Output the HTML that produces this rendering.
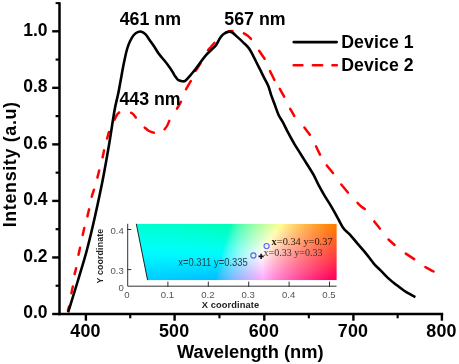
<!DOCTYPE html><html><head><meta charset="utf-8"><title>EL spectra</title>
<style>html,body{margin:0;padding:0;background:#fff;overflow:hidden}svg{display:block;will-change:transform}text{font-family:"Liberation Sans", sans-serif}.tk text{font-family:"Liberation Sans", sans-serif}text.sf{font-family:"Liberation Serif", serif}</style></head><body>
<svg width="459" height="364" viewBox="0 0 459 364">
<rect width="459" height="364" fill="#fff"/>
<defs>
<linearGradient id="g0" x1="0" y1="0" x2="0" y2="1"><stop offset="0.000" stop-color="#00ffd2"/><stop offset="0.143" stop-color="#00ffdf"/><stop offset="0.286" stop-color="#00ffec"/><stop offset="0.429" stop-color="#00fff9"/><stop offset="0.571" stop-color="#00f7ff"/><stop offset="0.714" stop-color="#00e9ff"/><stop offset="0.857" stop-color="#00dbff"/><stop offset="1.000" stop-color="#00ceff"/></linearGradient>
<linearGradient id="g1" x1="0" y1="0" x2="0" y2="1"><stop offset="0.000" stop-color="#00ffd2"/><stop offset="0.143" stop-color="#00ffde"/><stop offset="0.286" stop-color="#00ffeb"/><stop offset="0.429" stop-color="#00fff9"/><stop offset="0.571" stop-color="#00f7ff"/><stop offset="0.714" stop-color="#00e9ff"/><stop offset="0.857" stop-color="#00dbff"/><stop offset="1.000" stop-color="#00cdff"/></linearGradient>
<linearGradient id="g2" x1="0" y1="0" x2="0" y2="1"><stop offset="0.000" stop-color="#00ffd1"/><stop offset="0.143" stop-color="#00ffde"/><stop offset="0.286" stop-color="#00ffeb"/><stop offset="0.429" stop-color="#00fff9"/><stop offset="0.571" stop-color="#00f7ff"/><stop offset="0.714" stop-color="#00e9ff"/><stop offset="0.857" stop-color="#00dbff"/><stop offset="1.000" stop-color="#00cdff"/></linearGradient>
<linearGradient id="g3" x1="0" y1="0" x2="0" y2="1"><stop offset="0.000" stop-color="#00ffd1"/><stop offset="0.143" stop-color="#00ffde"/><stop offset="0.286" stop-color="#00ffeb"/><stop offset="0.429" stop-color="#00fff9"/><stop offset="0.571" stop-color="#00f7ff"/><stop offset="0.714" stop-color="#00e8ff"/><stop offset="0.857" stop-color="#00daff"/><stop offset="1.000" stop-color="#00cdff"/></linearGradient>
<linearGradient id="g4" x1="0" y1="0" x2="0" y2="1"><stop offset="0.000" stop-color="#00ffd0"/><stop offset="0.143" stop-color="#00ffdd"/><stop offset="0.286" stop-color="#00ffeb"/><stop offset="0.429" stop-color="#00fff9"/><stop offset="0.571" stop-color="#00f7ff"/><stop offset="0.714" stop-color="#00e8ff"/><stop offset="0.857" stop-color="#00daff"/><stop offset="1.000" stop-color="#00ccff"/></linearGradient>
<linearGradient id="g5" x1="0" y1="0" x2="0" y2="1"><stop offset="0.000" stop-color="#00ffd0"/><stop offset="0.143" stop-color="#00ffdd"/><stop offset="0.286" stop-color="#00ffea"/><stop offset="0.429" stop-color="#00fff8"/><stop offset="0.571" stop-color="#00f7ff"/><stop offset="0.714" stop-color="#00e8ff"/><stop offset="0.857" stop-color="#00daff"/><stop offset="1.000" stop-color="#00ccff"/></linearGradient>
<linearGradient id="g6" x1="0" y1="0" x2="0" y2="1"><stop offset="0.000" stop-color="#00ffd0"/><stop offset="0.143" stop-color="#00ffdd"/><stop offset="0.286" stop-color="#00ffea"/><stop offset="0.429" stop-color="#00fff8"/><stop offset="0.571" stop-color="#00f7ff"/><stop offset="0.714" stop-color="#00e8ff"/><stop offset="0.857" stop-color="#00daff"/><stop offset="1.000" stop-color="#00ccff"/></linearGradient>
<linearGradient id="g7" x1="0" y1="0" x2="0" y2="1"><stop offset="0.000" stop-color="#00ffcf"/><stop offset="0.143" stop-color="#00ffdc"/><stop offset="0.286" stop-color="#00ffea"/><stop offset="0.429" stop-color="#00fff8"/><stop offset="0.571" stop-color="#00f7ff"/><stop offset="0.714" stop-color="#00e8ff"/><stop offset="0.857" stop-color="#00daff"/><stop offset="1.000" stop-color="#00cbff"/></linearGradient>
<linearGradient id="g8" x1="0" y1="0" x2="0" y2="1"><stop offset="0.000" stop-color="#00ffcf"/><stop offset="0.143" stop-color="#00ffdc"/><stop offset="0.286" stop-color="#00ffea"/><stop offset="0.429" stop-color="#00fff8"/><stop offset="0.571" stop-color="#00f7ff"/><stop offset="0.714" stop-color="#00e8ff"/><stop offset="0.857" stop-color="#00d9ff"/><stop offset="1.000" stop-color="#00cbff"/></linearGradient>
<linearGradient id="g9" x1="0" y1="0" x2="0" y2="1"><stop offset="0.000" stop-color="#00ffce"/><stop offset="0.143" stop-color="#00ffdb"/><stop offset="0.286" stop-color="#00ffe9"/><stop offset="0.429" stop-color="#00fff8"/><stop offset="0.571" stop-color="#00f7ff"/><stop offset="0.714" stop-color="#00e8ff"/><stop offset="0.857" stop-color="#00d9ff"/><stop offset="1.000" stop-color="#00cbff"/></linearGradient>
<linearGradient id="g10" x1="0" y1="0" x2="0" y2="1"><stop offset="0.000" stop-color="#00ffce"/><stop offset="0.143" stop-color="#00ffdb"/><stop offset="0.286" stop-color="#00ffe9"/><stop offset="0.429" stop-color="#00fff8"/><stop offset="0.571" stop-color="#00f7ff"/><stop offset="0.714" stop-color="#00e8ff"/><stop offset="0.857" stop-color="#00d9ff"/><stop offset="1.000" stop-color="#00caff"/></linearGradient>
<linearGradient id="g11" x1="0" y1="0" x2="0" y2="1"><stop offset="0.000" stop-color="#00ffcd"/><stop offset="0.143" stop-color="#00ffdb"/><stop offset="0.286" stop-color="#00ffe9"/><stop offset="0.429" stop-color="#00fff8"/><stop offset="0.571" stop-color="#00f7ff"/><stop offset="0.714" stop-color="#00e8ff"/><stop offset="0.857" stop-color="#00d9ff"/><stop offset="1.000" stop-color="#00caff"/></linearGradient>
<linearGradient id="g12" x1="0" y1="0" x2="0" y2="1"><stop offset="0.000" stop-color="#00ffcd"/><stop offset="0.143" stop-color="#00ffda"/><stop offset="0.286" stop-color="#00ffe8"/><stop offset="0.429" stop-color="#00fff7"/><stop offset="0.571" stop-color="#00f7ff"/><stop offset="0.714" stop-color="#00e8ff"/><stop offset="0.857" stop-color="#00d8ff"/><stop offset="1.000" stop-color="#00caff"/></linearGradient>
<linearGradient id="g13" x1="0" y1="0" x2="0" y2="1"><stop offset="0.000" stop-color="#00ffcc"/><stop offset="0.143" stop-color="#00ffda"/><stop offset="0.286" stop-color="#00ffe8"/><stop offset="0.429" stop-color="#00fff7"/><stop offset="0.571" stop-color="#00f7ff"/><stop offset="0.714" stop-color="#00e7ff"/><stop offset="0.857" stop-color="#00d8ff"/><stop offset="1.000" stop-color="#00c9ff"/></linearGradient>
<linearGradient id="g14" x1="0" y1="0" x2="0" y2="1"><stop offset="0.000" stop-color="#00ffcc"/><stop offset="0.143" stop-color="#00ffd9"/><stop offset="0.286" stop-color="#00ffe8"/><stop offset="0.429" stop-color="#00fff7"/><stop offset="0.571" stop-color="#00f7ff"/><stop offset="0.714" stop-color="#00e7ff"/><stop offset="0.857" stop-color="#00d8ff"/><stop offset="1.000" stop-color="#00c9ff"/></linearGradient>
<linearGradient id="g15" x1="0" y1="0" x2="0" y2="1"><stop offset="0.000" stop-color="#00ffcb"/><stop offset="0.143" stop-color="#00ffd9"/><stop offset="0.286" stop-color="#00ffe8"/><stop offset="0.429" stop-color="#00fff7"/><stop offset="0.571" stop-color="#00f7ff"/><stop offset="0.714" stop-color="#00e7ff"/><stop offset="0.857" stop-color="#00d8ff"/><stop offset="1.000" stop-color="#00c9ff"/></linearGradient>
<linearGradient id="g16" x1="0" y1="0" x2="0" y2="1"><stop offset="0.000" stop-color="#00ffcb"/><stop offset="0.143" stop-color="#00ffd9"/><stop offset="0.286" stop-color="#00ffe7"/><stop offset="0.429" stop-color="#00fff7"/><stop offset="0.571" stop-color="#00f7ff"/><stop offset="0.714" stop-color="#00e7ff"/><stop offset="0.857" stop-color="#00d7ff"/><stop offset="1.000" stop-color="#00c8ff"/></linearGradient>
<linearGradient id="g17" x1="0" y1="0" x2="0" y2="1"><stop offset="0.000" stop-color="#00ffca"/><stop offset="0.143" stop-color="#00ffd8"/><stop offset="0.286" stop-color="#00ffe7"/><stop offset="0.429" stop-color="#00fff7"/><stop offset="0.571" stop-color="#00f7ff"/><stop offset="0.714" stop-color="#00e7ff"/><stop offset="0.857" stop-color="#00d7ff"/><stop offset="1.000" stop-color="#00c8ff"/></linearGradient>
<linearGradient id="g18" x1="0" y1="0" x2="0" y2="1"><stop offset="0.000" stop-color="#00ffca"/><stop offset="0.143" stop-color="#00ffd8"/><stop offset="0.286" stop-color="#00ffe7"/><stop offset="0.429" stop-color="#00fff6"/><stop offset="0.571" stop-color="#00f7ff"/><stop offset="0.714" stop-color="#00e7ff"/><stop offset="0.857" stop-color="#00d7ff"/><stop offset="1.000" stop-color="#00c7ff"/></linearGradient>
<linearGradient id="g19" x1="0" y1="0" x2="0" y2="1"><stop offset="0.000" stop-color="#00ffc9"/><stop offset="0.143" stop-color="#00ffd7"/><stop offset="0.286" stop-color="#00ffe6"/><stop offset="0.429" stop-color="#00fff6"/><stop offset="0.571" stop-color="#00f7ff"/><stop offset="0.714" stop-color="#00e7ff"/><stop offset="0.857" stop-color="#00d7ff"/><stop offset="1.000" stop-color="#00c7ff"/></linearGradient>
<linearGradient id="g20" x1="0" y1="0" x2="0" y2="1"><stop offset="0.000" stop-color="#00ffc9"/><stop offset="0.143" stop-color="#00ffd7"/><stop offset="0.286" stop-color="#00ffe6"/><stop offset="0.429" stop-color="#00fff6"/><stop offset="0.571" stop-color="#00f7ff"/><stop offset="0.714" stop-color="#00e7ff"/><stop offset="0.857" stop-color="#00d6ff"/><stop offset="1.000" stop-color="#00c7ff"/></linearGradient>
<linearGradient id="g21" x1="0" y1="0" x2="0" y2="1"><stop offset="0.000" stop-color="#00ffc8"/><stop offset="0.143" stop-color="#00ffd6"/><stop offset="0.286" stop-color="#00ffe6"/><stop offset="0.429" stop-color="#00fff6"/><stop offset="0.571" stop-color="#00f7ff"/><stop offset="0.714" stop-color="#00e6ff"/><stop offset="0.857" stop-color="#00d6ff"/><stop offset="1.000" stop-color="#00c6ff"/></linearGradient>
<linearGradient id="g22" x1="0" y1="0" x2="0" y2="1"><stop offset="0.000" stop-color="#00ffc7"/><stop offset="0.143" stop-color="#00ffd6"/><stop offset="0.286" stop-color="#00ffe5"/><stop offset="0.429" stop-color="#00fff6"/><stop offset="0.571" stop-color="#00f7ff"/><stop offset="0.714" stop-color="#00e6ff"/><stop offset="0.857" stop-color="#00d6ff"/><stop offset="1.000" stop-color="#00c6ff"/></linearGradient>
<linearGradient id="g23" x1="0" y1="0" x2="0" y2="1"><stop offset="0.000" stop-color="#00ffc7"/><stop offset="0.143" stop-color="#00ffd6"/><stop offset="0.286" stop-color="#00ffe5"/><stop offset="0.429" stop-color="#00fff5"/><stop offset="0.571" stop-color="#00f7ff"/><stop offset="0.714" stop-color="#00e6ff"/><stop offset="0.857" stop-color="#00d6ff"/><stop offset="1.000" stop-color="#00c5ff"/></linearGradient>
<linearGradient id="g24" x1="0" y1="0" x2="0" y2="1"><stop offset="0.000" stop-color="#00ffc6"/><stop offset="0.143" stop-color="#00ffd5"/><stop offset="0.286" stop-color="#00ffe5"/><stop offset="0.429" stop-color="#00fff5"/><stop offset="0.571" stop-color="#00f7ff"/><stop offset="0.714" stop-color="#00e6ff"/><stop offset="0.857" stop-color="#00d5ff"/><stop offset="1.000" stop-color="#00c5ff"/></linearGradient>
<linearGradient id="g25" x1="0" y1="0" x2="0" y2="1"><stop offset="0.000" stop-color="#00ffc6"/><stop offset="0.143" stop-color="#00ffd5"/><stop offset="0.286" stop-color="#00ffe4"/><stop offset="0.429" stop-color="#00fff5"/><stop offset="0.571" stop-color="#00f7ff"/><stop offset="0.714" stop-color="#00e6ff"/><stop offset="0.857" stop-color="#00d5ff"/><stop offset="1.000" stop-color="#00c4ff"/></linearGradient>
<linearGradient id="g26" x1="0" y1="0" x2="0" y2="1"><stop offset="0.000" stop-color="#00ffc5"/><stop offset="0.143" stop-color="#00ffd4"/><stop offset="0.286" stop-color="#00ffe4"/><stop offset="0.429" stop-color="#00fff5"/><stop offset="0.571" stop-color="#00f7ff"/><stop offset="0.714" stop-color="#00e6ff"/><stop offset="0.857" stop-color="#00d5ff"/><stop offset="1.000" stop-color="#00c4ff"/></linearGradient>
<linearGradient id="g27" x1="0" y1="0" x2="0" y2="1"><stop offset="0.000" stop-color="#00ffc4"/><stop offset="0.143" stop-color="#00ffd4"/><stop offset="0.286" stop-color="#00ffe4"/><stop offset="0.429" stop-color="#00fff5"/><stop offset="0.571" stop-color="#00f7ff"/><stop offset="0.714" stop-color="#00e6ff"/><stop offset="0.857" stop-color="#00d4ff"/><stop offset="1.000" stop-color="#00c3ff"/></linearGradient>
<linearGradient id="g28" x1="0" y1="0" x2="0" y2="1"><stop offset="0.000" stop-color="#00ffc4"/><stop offset="0.143" stop-color="#00ffd3"/><stop offset="0.286" stop-color="#00ffe3"/><stop offset="0.429" stop-color="#00fff4"/><stop offset="0.571" stop-color="#00f7ff"/><stop offset="0.714" stop-color="#00e6ff"/><stop offset="0.857" stop-color="#00d4ff"/><stop offset="1.000" stop-color="#00c3ff"/></linearGradient>
<linearGradient id="g29" x1="0" y1="0" x2="0" y2="1"><stop offset="0.000" stop-color="#00ffc3"/><stop offset="0.143" stop-color="#00ffd3"/><stop offset="0.286" stop-color="#00ffe3"/><stop offset="0.429" stop-color="#00fff4"/><stop offset="0.571" stop-color="#00f7ff"/><stop offset="0.714" stop-color="#00e5ff"/><stop offset="0.857" stop-color="#00d4ff"/><stop offset="1.000" stop-color="#00c2ff"/></linearGradient>
<linearGradient id="g30" x1="0" y1="0" x2="0" y2="1"><stop offset="0.000" stop-color="#00ffc2"/><stop offset="0.143" stop-color="#00ffd2"/><stop offset="0.286" stop-color="#00ffe3"/><stop offset="0.429" stop-color="#00fff4"/><stop offset="0.571" stop-color="#00f7ff"/><stop offset="0.714" stop-color="#00e5ff"/><stop offset="0.857" stop-color="#00d3ff"/><stop offset="1.000" stop-color="#00c2ff"/></linearGradient>
<linearGradient id="g31" x1="0" y1="0" x2="0" y2="1"><stop offset="0.000" stop-color="#00ffc2"/><stop offset="0.143" stop-color="#00ffd1"/><stop offset="0.286" stop-color="#00ffe2"/><stop offset="0.429" stop-color="#00fff4"/><stop offset="0.571" stop-color="#00f8ff"/><stop offset="0.714" stop-color="#00e5ff"/><stop offset="0.857" stop-color="#00d3ff"/><stop offset="1.000" stop-color="#00c1ff"/></linearGradient>
<linearGradient id="g32" x1="0" y1="0" x2="0" y2="1"><stop offset="0.000" stop-color="#00ffc1"/><stop offset="0.143" stop-color="#00ffd1"/><stop offset="0.286" stop-color="#00ffe2"/><stop offset="0.429" stop-color="#00fff4"/><stop offset="0.571" stop-color="#00f8ff"/><stop offset="0.714" stop-color="#00e5ff"/><stop offset="0.857" stop-color="#00d3ff"/><stop offset="1.000" stop-color="#00c1ff"/></linearGradient>
<linearGradient id="g33" x1="0" y1="0" x2="0" y2="1"><stop offset="0.000" stop-color="#00ffc0"/><stop offset="0.143" stop-color="#00ffd0"/><stop offset="0.286" stop-color="#00ffe1"/><stop offset="0.429" stop-color="#00fff3"/><stop offset="0.571" stop-color="#00f8ff"/><stop offset="0.714" stop-color="#00e5ff"/><stop offset="0.857" stop-color="#00d2ff"/><stop offset="1.000" stop-color="#00c0ff"/></linearGradient>
<linearGradient id="g34" x1="0" y1="0" x2="0" y2="1"><stop offset="0.000" stop-color="#00ffc0"/><stop offset="0.143" stop-color="#00ffd0"/><stop offset="0.286" stop-color="#00ffe1"/><stop offset="0.429" stop-color="#00fff3"/><stop offset="0.571" stop-color="#00f8ff"/><stop offset="0.714" stop-color="#00e5ff"/><stop offset="0.857" stop-color="#00d2ff"/><stop offset="1.000" stop-color="#00c0ff"/></linearGradient>
<linearGradient id="g35" x1="0" y1="0" x2="0" y2="1"><stop offset="0.000" stop-color="#00ffbf"/><stop offset="0.143" stop-color="#00ffcf"/><stop offset="0.286" stop-color="#00ffe0"/><stop offset="0.429" stop-color="#00fff3"/><stop offset="0.571" stop-color="#00f8ff"/><stop offset="0.714" stop-color="#00e4ff"/><stop offset="0.857" stop-color="#00d2ff"/><stop offset="1.000" stop-color="#00bfff"/></linearGradient>
<linearGradient id="g36" x1="0" y1="0" x2="0" y2="1"><stop offset="0.000" stop-color="#00ffbe"/><stop offset="0.143" stop-color="#00ffcf"/><stop offset="0.286" stop-color="#00ffe0"/><stop offset="0.429" stop-color="#00fff3"/><stop offset="0.571" stop-color="#00f8ff"/><stop offset="0.714" stop-color="#00e4ff"/><stop offset="0.857" stop-color="#00d1ff"/><stop offset="1.000" stop-color="#00bfff"/></linearGradient>
<linearGradient id="g37" x1="0" y1="0" x2="0" y2="1"><stop offset="0.000" stop-color="#00ffbd"/><stop offset="0.143" stop-color="#00ffce"/><stop offset="0.286" stop-color="#00ffe0"/><stop offset="0.429" stop-color="#00fff2"/><stop offset="0.571" stop-color="#00f8ff"/><stop offset="0.714" stop-color="#00e4ff"/><stop offset="0.857" stop-color="#00d1ff"/><stop offset="1.000" stop-color="#00beff"/></linearGradient>
<linearGradient id="g38" x1="0" y1="0" x2="0" y2="1"><stop offset="0.000" stop-color="#00ffbd"/><stop offset="0.143" stop-color="#00ffcd"/><stop offset="0.286" stop-color="#00ffdf"/><stop offset="0.429" stop-color="#00fff2"/><stop offset="0.571" stop-color="#00f8ff"/><stop offset="0.714" stop-color="#00e4ff"/><stop offset="0.857" stop-color="#00d0ff"/><stop offset="1.000" stop-color="#00bdff"/></linearGradient>
<linearGradient id="g39" x1="0" y1="0" x2="0" y2="1"><stop offset="0.000" stop-color="#00ffbc"/><stop offset="0.143" stop-color="#00ffcd"/><stop offset="0.286" stop-color="#00ffdf"/><stop offset="0.429" stop-color="#00fff2"/><stop offset="0.571" stop-color="#00f8ff"/><stop offset="0.714" stop-color="#00e4ff"/><stop offset="0.857" stop-color="#00d0ff"/><stop offset="1.000" stop-color="#00bdff"/></linearGradient>
<linearGradient id="g40" x1="0" y1="0" x2="0" y2="1"><stop offset="0.000" stop-color="#00ffbb"/><stop offset="0.143" stop-color="#00ffcc"/><stop offset="0.286" stop-color="#00ffde"/><stop offset="0.429" stop-color="#00fff1"/><stop offset="0.571" stop-color="#00f8ff"/><stop offset="0.714" stop-color="#00e4ff"/><stop offset="0.857" stop-color="#00d0ff"/><stop offset="1.000" stop-color="#00bcff"/></linearGradient>
<linearGradient id="g41" x1="0" y1="0" x2="0" y2="1"><stop offset="0.000" stop-color="#00ffba"/><stop offset="0.143" stop-color="#00ffcb"/><stop offset="0.286" stop-color="#00ffde"/><stop offset="0.429" stop-color="#00fff1"/><stop offset="0.571" stop-color="#00f8ff"/><stop offset="0.714" stop-color="#00e3ff"/><stop offset="0.857" stop-color="#00cfff"/><stop offset="1.000" stop-color="#16bcff"/></linearGradient>
<linearGradient id="g42" x1="0" y1="0" x2="0" y2="1"><stop offset="0.000" stop-color="#00ffb9"/><stop offset="0.143" stop-color="#00ffcb"/><stop offset="0.286" stop-color="#00ffdd"/><stop offset="0.429" stop-color="#00fff1"/><stop offset="0.571" stop-color="#00f8ff"/><stop offset="0.714" stop-color="#00e3ff"/><stop offset="0.857" stop-color="#17cfff"/><stop offset="1.000" stop-color="#29bbff"/></linearGradient>
<linearGradient id="g43" x1="0" y1="0" x2="0" y2="1"><stop offset="0.000" stop-color="#00ffb8"/><stop offset="0.143" stop-color="#00ffca"/><stop offset="0.286" stop-color="#00ffdd"/><stop offset="0.429" stop-color="#00fff1"/><stop offset="0.571" stop-color="#00f8ff"/><stop offset="0.714" stop-color="#17e3ff"/><stop offset="0.857" stop-color="#2aceff"/><stop offset="1.000" stop-color="#38baff"/></linearGradient>
<linearGradient id="g44" x1="0" y1="0" x2="0" y2="1"><stop offset="0.000" stop-color="#00ffb7"/><stop offset="0.143" stop-color="#00ffc9"/><stop offset="0.286" stop-color="#00ffdc"/><stop offset="0.429" stop-color="#00fff0"/><stop offset="0.571" stop-color="#18f8ff"/><stop offset="0.714" stop-color="#2ce3ff"/><stop offset="0.857" stop-color="#3bceff"/><stop offset="1.000" stop-color="#46b9ff"/></linearGradient>
<linearGradient id="g45" x1="0" y1="0" x2="0" y2="1"><stop offset="0.000" stop-color="#00ffb7"/><stop offset="0.143" stop-color="#00ffc9"/><stop offset="0.286" stop-color="#00ffdc"/><stop offset="0.429" stop-color="#14fff0"/><stop offset="0.571" stop-color="#2ef8ff"/><stop offset="0.714" stop-color="#3de3ff"/><stop offset="0.857" stop-color="#49cdff"/><stop offset="1.000" stop-color="#53b9ff"/></linearGradient>
<linearGradient id="g46" x1="0" y1="0" x2="0" y2="1"><stop offset="0.000" stop-color="#00ffb6"/><stop offset="0.143" stop-color="#00ffc8"/><stop offset="0.286" stop-color="#0dffdb"/><stop offset="0.429" stop-color="#2afff0"/><stop offset="0.571" stop-color="#40f8ff"/><stop offset="0.714" stop-color="#4de2ff"/><stop offset="0.857" stop-color="#57cdff"/><stop offset="1.000" stop-color="#5fb8ff"/></linearGradient>
<linearGradient id="g47" x1="0" y1="0" x2="0" y2="1"><stop offset="0.000" stop-color="#00ffb5"/><stop offset="0.143" stop-color="#07ffc7"/><stop offset="0.286" stop-color="#24ffdb"/><stop offset="0.429" stop-color="#3cffef"/><stop offset="0.571" stop-color="#50f8ff"/><stop offset="0.714" stop-color="#5be2ff"/><stop offset="0.857" stop-color="#63cdff"/><stop offset="1.000" stop-color="#6ab7ff"/></linearGradient>
<linearGradient id="g48" x1="0" y1="0" x2="0" y2="1"><stop offset="0.000" stop-color="#02ffb4"/><stop offset="0.143" stop-color="#1effc6"/><stop offset="0.286" stop-color="#36ffda"/><stop offset="0.429" stop-color="#4cffef"/><stop offset="0.571" stop-color="#5ff8ff"/><stop offset="0.714" stop-color="#68e2ff"/><stop offset="0.857" stop-color="#6fccff"/><stop offset="1.000" stop-color="#75b7ff"/></linearGradient>
<linearGradient id="g49" x1="0" y1="0" x2="0" y2="1"><stop offset="0.000" stop-color="#18ffb3"/><stop offset="0.143" stop-color="#30ffc6"/><stop offset="0.286" stop-color="#46ffd9"/><stop offset="0.429" stop-color="#5bffef"/><stop offset="0.571" stop-color="#6df8ff"/><stop offset="0.714" stop-color="#74e2ff"/><stop offset="0.857" stop-color="#7accff"/><stop offset="1.000" stop-color="#7fb6ff"/></linearGradient>
<linearGradient id="g50" x1="0" y1="0" x2="0" y2="1"><stop offset="0.000" stop-color="#2affb2"/><stop offset="0.143" stop-color="#3fffc5"/><stop offset="0.286" stop-color="#54ffd9"/><stop offset="0.429" stop-color="#68ffee"/><stop offset="0.571" stop-color="#79f8ff"/><stop offset="0.714" stop-color="#7fe1ff"/><stop offset="0.857" stop-color="#84cbff"/><stop offset="1.000" stop-color="#88b5ff"/></linearGradient>
<linearGradient id="g51" x1="0" y1="0" x2="0" y2="1"><stop offset="0.000" stop-color="#3affb1"/><stop offset="0.143" stop-color="#4dffc4"/><stop offset="0.286" stop-color="#61ffd8"/><stop offset="0.429" stop-color="#75ffee"/><stop offset="0.571" stop-color="#85f9ff"/><stop offset="0.714" stop-color="#8ae1ff"/><stop offset="0.857" stop-color="#8ecaff"/><stop offset="1.000" stop-color="#92b4ff"/></linearGradient>
<linearGradient id="g52" x1="0" y1="0" x2="0" y2="1"><stop offset="0.000" stop-color="#47ffb0"/><stop offset="0.143" stop-color="#5affc3"/><stop offset="0.286" stop-color="#6dffd8"/><stop offset="0.429" stop-color="#81ffee"/><stop offset="0.571" stop-color="#91f9ff"/><stop offset="0.714" stop-color="#95e1ff"/><stop offset="0.857" stop-color="#98caff"/><stop offset="1.000" stop-color="#9bb3ff"/></linearGradient>
<linearGradient id="g53" x1="0" y1="0" x2="0" y2="1"><stop offset="0.000" stop-color="#54ffaf"/><stop offset="0.143" stop-color="#66ffc2"/><stop offset="0.286" stop-color="#78ffd7"/><stop offset="0.429" stop-color="#8cffed"/><stop offset="0.571" stop-color="#9cf9ff"/><stop offset="0.714" stop-color="#9fe1ff"/><stop offset="0.857" stop-color="#a1c9ff"/><stop offset="1.000" stop-color="#a3b2ff"/></linearGradient>
<linearGradient id="g54" x1="0" y1="0" x2="0" y2="1"><stop offset="0.000" stop-color="#5fffad"/><stop offset="0.143" stop-color="#71ffc1"/><stop offset="0.286" stop-color="#83ffd6"/><stop offset="0.429" stop-color="#97ffed"/><stop offset="0.571" stop-color="#a7f9ff"/><stop offset="0.714" stop-color="#a9e0ff"/><stop offset="0.857" stop-color="#aac9ff"/><stop offset="1.000" stop-color="#acb2ff"/></linearGradient>
<linearGradient id="g55" x1="0" y1="0" x2="0" y2="1"><stop offset="0.000" stop-color="#6affac"/><stop offset="0.143" stop-color="#7cffc0"/><stop offset="0.286" stop-color="#8effd6"/><stop offset="0.429" stop-color="#a1ffec"/><stop offset="0.571" stop-color="#b1f9ff"/><stop offset="0.714" stop-color="#b2e0ff"/><stop offset="0.857" stop-color="#b3c8ff"/><stop offset="1.000" stop-color="#b4b1ff"/></linearGradient>
<linearGradient id="g56" x1="0" y1="0" x2="0" y2="1"><stop offset="0.000" stop-color="#75ffab"/><stop offset="0.143" stop-color="#86ffbf"/><stop offset="0.286" stop-color="#98ffd5"/><stop offset="0.429" stop-color="#abffec"/><stop offset="0.571" stop-color="#bbf9ff"/><stop offset="0.714" stop-color="#bce0ff"/><stop offset="0.857" stop-color="#bcc8ff"/><stop offset="1.000" stop-color="#bdb0ff"/></linearGradient>
<linearGradient id="g57" x1="0" y1="0" x2="0" y2="1"><stop offset="0.000" stop-color="#7fffaa"/><stop offset="0.143" stop-color="#90ffbe"/><stop offset="0.286" stop-color="#a2ffd4"/><stop offset="0.429" stop-color="#b5ffec"/><stop offset="0.571" stop-color="#c5f9ff"/><stop offset="0.714" stop-color="#c5e0ff"/><stop offset="0.857" stop-color="#c5c7ff"/><stop offset="1.000" stop-color="#c5afff"/></linearGradient>
<linearGradient id="g58" x1="0" y1="0" x2="0" y2="1"><stop offset="0.000" stop-color="#88ffa9"/><stop offset="0.143" stop-color="#99ffbd"/><stop offset="0.286" stop-color="#abffd4"/><stop offset="0.429" stop-color="#bfffeb"/><stop offset="0.571" stop-color="#cff9ff"/><stop offset="0.714" stop-color="#cedfff"/><stop offset="0.857" stop-color="#cdc6ff"/><stop offset="1.000" stop-color="#cdaeff"/></linearGradient>
<linearGradient id="g59" x1="0" y1="0" x2="0" y2="1"><stop offset="0.000" stop-color="#91ffa7"/><stop offset="0.143" stop-color="#a2ffbc"/><stop offset="0.286" stop-color="#b4ffd3"/><stop offset="0.429" stop-color="#c8ffeb"/><stop offset="0.571" stop-color="#d9f9ff"/><stop offset="0.714" stop-color="#d7dfff"/><stop offset="0.857" stop-color="#d6c6ff"/><stop offset="1.000" stop-color="#d5adff"/></linearGradient>
<linearGradient id="g60" x1="0" y1="0" x2="0" y2="1"><stop offset="0.000" stop-color="#9affa6"/><stop offset="0.143" stop-color="#abffbb"/><stop offset="0.286" stop-color="#bdffd2"/><stop offset="0.429" stop-color="#d1ffea"/><stop offset="0.571" stop-color="#e2f9ff"/><stop offset="0.714" stop-color="#e0dfff"/><stop offset="0.857" stop-color="#dec5ff"/><stop offset="1.000" stop-color="#dcacff"/></linearGradient>
<linearGradient id="g61" x1="0" y1="0" x2="0" y2="1"><stop offset="0.000" stop-color="#a3ffa5"/><stop offset="0.143" stop-color="#b4ffba"/><stop offset="0.286" stop-color="#c6ffd1"/><stop offset="0.429" stop-color="#daffea"/><stop offset="0.571" stop-color="#ebf9ff"/><stop offset="0.714" stop-color="#e9deff"/><stop offset="0.857" stop-color="#e6c4ff"/><stop offset="1.000" stop-color="#e4aaff"/></linearGradient>
<linearGradient id="g62" x1="0" y1="0" x2="0" y2="1"><stop offset="0.000" stop-color="#abffa3"/><stop offset="0.143" stop-color="#bcffb9"/><stop offset="0.286" stop-color="#cfffd0"/><stop offset="0.429" stop-color="#e3ffe9"/><stop offset="0.571" stop-color="#f5f9ff"/><stop offset="0.714" stop-color="#f1deff"/><stop offset="0.857" stop-color="#eec3ff"/><stop offset="1.000" stop-color="#eca9ff"/></linearGradient>
<linearGradient id="g63" x1="0" y1="0" x2="0" y2="1"><stop offset="0.000" stop-color="#b3ffa2"/><stop offset="0.143" stop-color="#c4ffb8"/><stop offset="0.286" stop-color="#d7ffd0"/><stop offset="0.429" stop-color="#ecffe9"/><stop offset="0.571" stop-color="#fef9ff"/><stop offset="0.714" stop-color="#fadeff"/><stop offset="0.857" stop-color="#f7c3ff"/><stop offset="1.000" stop-color="#f4a8ff"/></linearGradient>
<linearGradient id="g64" x1="0" y1="0" x2="0" y2="1"><stop offset="0.000" stop-color="#bbffa0"/><stop offset="0.143" stop-color="#cdffb7"/><stop offset="0.286" stop-color="#e0ffcf"/><stop offset="0.429" stop-color="#f5ffe8"/><stop offset="0.571" stop-color="#fff2f7"/><stop offset="0.714" stop-color="#ffdafb"/><stop offset="0.857" stop-color="#ffc2ff"/><stop offset="1.000" stop-color="#fba7ff"/></linearGradient>
<linearGradient id="g65" x1="0" y1="0" x2="0" y2="1"><stop offset="0.000" stop-color="#c3ff9f"/><stop offset="0.143" stop-color="#d5ffb6"/><stop offset="0.286" stop-color="#e8ffce"/><stop offset="0.429" stop-color="#feffe8"/><stop offset="0.571" stop-color="#ffe9ee"/><stop offset="0.714" stop-color="#ffd2f3"/><stop offset="0.857" stop-color="#ffbbf8"/><stop offset="1.000" stop-color="#ffa3fb"/></linearGradient>
<linearGradient id="g66" x1="0" y1="0" x2="0" y2="1"><stop offset="0.000" stop-color="#cbff9d"/><stop offset="0.143" stop-color="#ddffb4"/><stop offset="0.286" stop-color="#f1ffcd"/><stop offset="0.429" stop-color="#fff8e0"/><stop offset="0.571" stop-color="#ffe1e6"/><stop offset="0.714" stop-color="#ffcbeb"/><stop offset="0.857" stop-color="#ffb4f0"/><stop offset="1.000" stop-color="#ff9cf4"/></linearGradient>
<linearGradient id="g67" x1="0" y1="0" x2="0" y2="1"><stop offset="0.000" stop-color="#d2ff9c"/><stop offset="0.143" stop-color="#e5ffb3"/><stop offset="0.286" stop-color="#f9ffcc"/><stop offset="0.429" stop-color="#fff0d8"/><stop offset="0.571" stop-color="#ffdade"/><stop offset="0.714" stop-color="#ffc4e4"/><stop offset="0.857" stop-color="#ffade9"/><stop offset="1.000" stop-color="#ff96ed"/></linearGradient>
<linearGradient id="g68" x1="0" y1="0" x2="0" y2="1"><stop offset="0.000" stop-color="#daff9a"/><stop offset="0.143" stop-color="#ecffb2"/><stop offset="0.286" stop-color="#fffdc9"/><stop offset="0.429" stop-color="#ffe8d1"/><stop offset="0.571" stop-color="#ffd3d7"/><stop offset="0.714" stop-color="#ffbddd"/><stop offset="0.857" stop-color="#ffa7e2"/><stop offset="1.000" stop-color="#ff90e7"/></linearGradient>
<linearGradient id="g69" x1="0" y1="0" x2="0" y2="1"><stop offset="0.000" stop-color="#e1ff98"/><stop offset="0.143" stop-color="#f4ffb0"/><stop offset="0.286" stop-color="#fff5c2"/><stop offset="0.429" stop-color="#ffe0c9"/><stop offset="0.571" stop-color="#ffccd0"/><stop offset="0.714" stop-color="#ffb6d6"/><stop offset="0.857" stop-color="#ffa1db"/><stop offset="1.000" stop-color="#ff8ae0"/></linearGradient>
<linearGradient id="g70" x1="0" y1="0" x2="0" y2="1"><stop offset="0.000" stop-color="#e9ff96"/><stop offset="0.143" stop-color="#fcffaf"/><stop offset="0.286" stop-color="#ffeeba"/><stop offset="0.429" stop-color="#ffd9c2"/><stop offset="0.571" stop-color="#ffc5c9"/><stop offset="0.714" stop-color="#ffb0cf"/><stop offset="0.857" stop-color="#ff9bd5"/><stop offset="1.000" stop-color="#ff84da"/></linearGradient>
<linearGradient id="g71" x1="0" y1="0" x2="0" y2="1"><stop offset="0.000" stop-color="#f0ff95"/><stop offset="0.143" stop-color="#fffbaa"/><stop offset="0.286" stop-color="#ffe7b3"/><stop offset="0.429" stop-color="#ffd3bb"/><stop offset="0.571" stop-color="#ffbfc3"/><stop offset="0.714" stop-color="#ffaac9"/><stop offset="0.857" stop-color="#ff95cf"/><stop offset="1.000" stop-color="#ff7ed4"/></linearGradient>
<linearGradient id="g72" x1="0" y1="0" x2="0" y2="1"><stop offset="0.000" stop-color="#f7ff93"/><stop offset="0.143" stop-color="#fff3a3"/><stop offset="0.286" stop-color="#ffe0ad"/><stop offset="0.429" stop-color="#ffccb5"/><stop offset="0.571" stop-color="#ffb9bc"/><stop offset="0.714" stop-color="#ffa4c3"/><stop offset="0.857" stop-color="#ff8fc9"/><stop offset="1.000" stop-color="#ff79cf"/></linearGradient>
<linearGradient id="g73" x1="0" y1="0" x2="0" y2="1"><stop offset="0.000" stop-color="#ffff91"/><stop offset="0.143" stop-color="#ffec9c"/><stop offset="0.286" stop-color="#ffd9a6"/><stop offset="0.429" stop-color="#ffc6af"/><stop offset="0.571" stop-color="#ffb3b6"/><stop offset="0.714" stop-color="#ff9fbd"/><stop offset="0.857" stop-color="#ff8ac3"/><stop offset="1.000" stop-color="#ff74c9"/></linearGradient>
<linearGradient id="g74" x1="0" y1="0" x2="0" y2="1"><stop offset="0.000" stop-color="#fff88a"/><stop offset="0.143" stop-color="#ffe696"/><stop offset="0.286" stop-color="#ffd3a0"/><stop offset="0.429" stop-color="#ffc0a9"/><stop offset="0.571" stop-color="#ffadb0"/><stop offset="0.714" stop-color="#ff99b8"/><stop offset="0.857" stop-color="#ff85be"/><stop offset="1.000" stop-color="#ff6ec4"/></linearGradient>
<linearGradient id="g75" x1="0" y1="0" x2="0" y2="1"><stop offset="0.000" stop-color="#fff183"/><stop offset="0.143" stop-color="#ffdf8f"/><stop offset="0.286" stop-color="#ffcd9a"/><stop offset="0.429" stop-color="#ffbaa3"/><stop offset="0.571" stop-color="#ffa8ab"/><stop offset="0.714" stop-color="#ff94b2"/><stop offset="0.857" stop-color="#ff7fb9"/><stop offset="1.000" stop-color="#ff69bf"/></linearGradient>
<linearGradient id="g76" x1="0" y1="0" x2="0" y2="1"><stop offset="0.000" stop-color="#ffeb7d"/><stop offset="0.143" stop-color="#ffd989"/><stop offset="0.286" stop-color="#ffc794"/><stop offset="0.429" stop-color="#ffb59d"/><stop offset="0.571" stop-color="#ffa2a5"/><stop offset="0.714" stop-color="#ff8fad"/><stop offset="0.857" stop-color="#ff7ab3"/><stop offset="1.000" stop-color="#ff64ba"/></linearGradient>
<linearGradient id="g77" x1="0" y1="0" x2="0" y2="1"><stop offset="0.000" stop-color="#ffe577"/><stop offset="0.143" stop-color="#ffd383"/><stop offset="0.286" stop-color="#ffc28e"/><stop offset="0.429" stop-color="#ffb098"/><stop offset="0.571" stop-color="#ff9da0"/><stop offset="0.714" stop-color="#ff8aa8"/><stop offset="0.857" stop-color="#ff75ae"/><stop offset="1.000" stop-color="#ff5fb5"/></linearGradient>
<linearGradient id="g78" x1="0" y1="0" x2="0" y2="1"><stop offset="0.000" stop-color="#ffdf71"/><stop offset="0.143" stop-color="#ffce7d"/><stop offset="0.286" stop-color="#ffbc88"/><stop offset="0.429" stop-color="#ffaa92"/><stop offset="0.571" stop-color="#ff989b"/><stop offset="0.714" stop-color="#ff85a3"/><stop offset="0.857" stop-color="#ff71aa"/><stop offset="1.000" stop-color="#ff5ab0"/></linearGradient>
<linearGradient id="g79" x1="0" y1="0" x2="0" y2="1"><stop offset="0.000" stop-color="#ffd96b"/><stop offset="0.143" stop-color="#ffc878"/><stop offset="0.286" stop-color="#ffb783"/><stop offset="0.429" stop-color="#ffa58d"/><stop offset="0.571" stop-color="#ff9396"/><stop offset="0.714" stop-color="#ff809e"/><stop offset="0.857" stop-color="#ff6ca5"/><stop offset="1.000" stop-color="#ff56ab"/></linearGradient>
<linearGradient id="g80" x1="0" y1="0" x2="0" y2="1"><stop offset="0.000" stop-color="#ffd365"/><stop offset="0.143" stop-color="#ffc372"/><stop offset="0.286" stop-color="#ffb27e"/><stop offset="0.429" stop-color="#ffa088"/><stop offset="0.571" stop-color="#ff8e91"/><stop offset="0.714" stop-color="#ff7b99"/><stop offset="0.857" stop-color="#ff67a0"/><stop offset="1.000" stop-color="#ff51a7"/></linearGradient>
<linearGradient id="g81" x1="0" y1="0" x2="0" y2="1"><stop offset="0.000" stop-color="#ffce5f"/><stop offset="0.143" stop-color="#ffbe6d"/><stop offset="0.286" stop-color="#ffad79"/><stop offset="0.429" stop-color="#ff9c83"/><stop offset="0.571" stop-color="#ff8a8c"/><stop offset="0.714" stop-color="#ff7794"/><stop offset="0.857" stop-color="#ff639c"/><stop offset="1.000" stop-color="#ff4ca2"/></linearGradient>
<linearGradient id="g82" x1="0" y1="0" x2="0" y2="1"><stop offset="0.000" stop-color="#ffc959"/><stop offset="0.143" stop-color="#ffb967"/><stop offset="0.286" stop-color="#ffa873"/><stop offset="0.429" stop-color="#ff977e"/><stop offset="0.571" stop-color="#ff8587"/><stop offset="0.714" stop-color="#ff7290"/><stop offset="0.857" stop-color="#ff5e97"/><stop offset="1.000" stop-color="#ff489e"/></linearGradient>
<linearGradient id="g83" x1="0" y1="0" x2="0" y2="1"><stop offset="0.000" stop-color="#ffc454"/><stop offset="0.143" stop-color="#ffb462"/><stop offset="0.286" stop-color="#ffa36e"/><stop offset="0.429" stop-color="#ff9279"/><stop offset="0.571" stop-color="#ff8183"/><stop offset="0.714" stop-color="#ff6e8b"/><stop offset="0.857" stop-color="#ff5a93"/><stop offset="1.000" stop-color="#ff439a"/></linearGradient>
<linearGradient id="g84" x1="0" y1="0" x2="0" y2="1"><stop offset="0.000" stop-color="#ffbf4e"/><stop offset="0.143" stop-color="#ffaf5d"/><stop offset="0.286" stop-color="#ff9f6a"/><stop offset="0.429" stop-color="#ff8e75"/><stop offset="0.571" stop-color="#ff7c7e"/><stop offset="0.714" stop-color="#ff6a87"/><stop offset="0.857" stop-color="#ff558f"/><stop offset="1.000" stop-color="#ff3e96"/></linearGradient>
<linearGradient id="g85" x1="0" y1="0" x2="0" y2="1"><stop offset="0.000" stop-color="#ffba49"/><stop offset="0.143" stop-color="#ffab58"/><stop offset="0.286" stop-color="#ff9a65"/><stop offset="0.429" stop-color="#ff8a70"/><stop offset="0.571" stop-color="#ff787a"/><stop offset="0.714" stop-color="#ff6583"/><stop offset="0.857" stop-color="#ff518b"/><stop offset="1.000" stop-color="#ff3a92"/></linearGradient>
<linearGradient id="g86" x1="0" y1="0" x2="0" y2="1"><stop offset="0.000" stop-color="#ffb643"/><stop offset="0.143" stop-color="#ffa653"/><stop offset="0.286" stop-color="#ff9660"/><stop offset="0.429" stop-color="#ff866b"/><stop offset="0.571" stop-color="#ff7475"/><stop offset="0.714" stop-color="#ff617e"/><stop offset="0.857" stop-color="#ff4d87"/><stop offset="1.000" stop-color="#ff358e"/></linearGradient>
<linearGradient id="g87" x1="0" y1="0" x2="0" y2="1"><stop offset="0.000" stop-color="#ffb13e"/><stop offset="0.143" stop-color="#ffa24e"/><stop offset="0.286" stop-color="#ff925b"/><stop offset="0.429" stop-color="#ff8167"/><stop offset="0.571" stop-color="#ff7071"/><stop offset="0.714" stop-color="#ff5d7a"/><stop offset="0.857" stop-color="#ff4883"/><stop offset="1.000" stop-color="#ff318a"/></linearGradient>
<linearGradient id="g88" x1="0" y1="0" x2="0" y2="1"><stop offset="0.000" stop-color="#ffad38"/><stop offset="0.143" stop-color="#ff9e49"/><stop offset="0.286" stop-color="#ff8e57"/><stop offset="0.429" stop-color="#ff7d63"/><stop offset="0.571" stop-color="#ff6c6d"/><stop offset="0.714" stop-color="#ff5976"/><stop offset="0.857" stop-color="#ff447f"/><stop offset="1.000" stop-color="#ff2c86"/></linearGradient>
<linearGradient id="g89" x1="0" y1="0" x2="0" y2="1"><stop offset="0.000" stop-color="#ffa833"/><stop offset="0.143" stop-color="#ff9944"/><stop offset="0.286" stop-color="#ff8a52"/><stop offset="0.429" stop-color="#ff795e"/><stop offset="0.571" stop-color="#ff6869"/><stop offset="0.714" stop-color="#ff5572"/><stop offset="0.857" stop-color="#ff407b"/><stop offset="1.000" stop-color="#ff2782"/></linearGradient>
<linearGradient id="g90" x1="0" y1="0" x2="0" y2="1"><stop offset="0.000" stop-color="#ffa42e"/><stop offset="0.143" stop-color="#ff953f"/><stop offset="0.286" stop-color="#ff864e"/><stop offset="0.429" stop-color="#ff755a"/><stop offset="0.571" stop-color="#ff6465"/><stop offset="0.714" stop-color="#ff516e"/><stop offset="0.857" stop-color="#ff3c77"/><stop offset="1.000" stop-color="#ff237f"/></linearGradient>
<linearGradient id="g91" x1="0" y1="0" x2="0" y2="1"><stop offset="0.000" stop-color="#ffa028"/><stop offset="0.143" stop-color="#ff913a"/><stop offset="0.286" stop-color="#ff8249"/><stop offset="0.429" stop-color="#ff7256"/><stop offset="0.571" stop-color="#ff6061"/><stop offset="0.714" stop-color="#ff4d6b"/><stop offset="0.857" stop-color="#ff3873"/><stop offset="1.000" stop-color="#ff1e7b"/></linearGradient>
<linearGradient id="g92" x1="0" y1="0" x2="0" y2="1"><stop offset="0.000" stop-color="#ff9c22"/><stop offset="0.143" stop-color="#ff8e35"/><stop offset="0.286" stop-color="#ff7e45"/><stop offset="0.429" stop-color="#ff6e52"/><stop offset="0.571" stop-color="#ff5c5d"/><stop offset="0.714" stop-color="#ff4967"/><stop offset="0.857" stop-color="#ff3470"/><stop offset="1.000" stop-color="#ff1978"/></linearGradient>
<linearGradient id="g93" x1="0" y1="0" x2="0" y2="1"><stop offset="0.000" stop-color="#ff981d"/><stop offset="0.143" stop-color="#ff8a30"/><stop offset="0.286" stop-color="#ff7a40"/><stop offset="0.429" stop-color="#ff6a4d"/><stop offset="0.571" stop-color="#ff5959"/><stop offset="0.714" stop-color="#ff4563"/><stop offset="0.857" stop-color="#ff2f6c"/><stop offset="1.000" stop-color="#ff1474"/></linearGradient>
<linearGradient id="g94" x1="0" y1="0" x2="0" y2="1"><stop offset="0.000" stop-color="#ff9517"/><stop offset="0.143" stop-color="#ff862c"/><stop offset="0.286" stop-color="#ff773c"/><stop offset="0.429" stop-color="#ff6649"/><stop offset="0.571" stop-color="#ff5555"/><stop offset="0.714" stop-color="#ff415f"/><stop offset="0.857" stop-color="#ff2b68"/><stop offset="1.000" stop-color="#ff0f71"/></linearGradient>
<linearGradient id="g95" x1="0" y1="0" x2="0" y2="1"><stop offset="0.000" stop-color="#ff9111"/><stop offset="0.143" stop-color="#ff8227"/><stop offset="0.286" stop-color="#ff7337"/><stop offset="0.429" stop-color="#ff6345"/><stop offset="0.571" stop-color="#ff5151"/><stop offset="0.714" stop-color="#ff3e5c"/><stop offset="0.857" stop-color="#ff2765"/><stop offset="1.000" stop-color="#ff0a6d"/></linearGradient>
<linearGradient id="g96" x1="0" y1="0" x2="0" y2="1"><stop offset="0.000" stop-color="#ff8d0b"/><stop offset="0.143" stop-color="#ff7f21"/><stop offset="0.286" stop-color="#ff6f33"/><stop offset="0.429" stop-color="#ff5f41"/><stop offset="0.571" stop-color="#ff4e4d"/><stop offset="0.714" stop-color="#ff3a58"/><stop offset="0.857" stop-color="#ff2361"/><stop offset="1.000" stop-color="#ff056a"/></linearGradient>
<linearGradient id="g97" x1="0" y1="0" x2="0" y2="1"><stop offset="0.000" stop-color="#ff8a04"/><stop offset="0.143" stop-color="#ff7b1c"/><stop offset="0.286" stop-color="#ff6c2e"/><stop offset="0.429" stop-color="#ff5c3d"/><stop offset="0.571" stop-color="#ff4a49"/><stop offset="0.714" stop-color="#ff3654"/><stop offset="0.857" stop-color="#ff1e5e"/><stop offset="1.000" stop-color="#ff0066"/></linearGradient>
<linearGradient id="g98" x1="0" y1="0" x2="0" y2="1"><stop offset="0.000" stop-color="#ff8600"/><stop offset="0.143" stop-color="#ff7817"/><stop offset="0.286" stop-color="#ff682a"/><stop offset="0.429" stop-color="#ff5839"/><stop offset="0.571" stop-color="#ff4646"/><stop offset="0.714" stop-color="#ff3251"/><stop offset="0.857" stop-color="#ff1a5a"/><stop offset="1.000" stop-color="#ff0063"/></linearGradient>
<linearGradient id="g99" x1="0" y1="0" x2="0" y2="1"><stop offset="0.000" stop-color="#ff8300"/><stop offset="0.143" stop-color="#ff7412"/><stop offset="0.286" stop-color="#ff6525"/><stop offset="0.429" stop-color="#ff5535"/><stop offset="0.571" stop-color="#ff4342"/><stop offset="0.714" stop-color="#ff2e4d"/><stop offset="0.857" stop-color="#ff1657"/><stop offset="1.000" stop-color="#ff0060"/></linearGradient>
<linearGradient id="g100" x1="0" y1="0" x2="0" y2="1"><stop offset="0.000" stop-color="#ff7f00"/><stop offset="0.143" stop-color="#ff710c"/><stop offset="0.286" stop-color="#ff6221"/><stop offset="0.429" stop-color="#ff5131"/><stop offset="0.571" stop-color="#ff3f3e"/><stop offset="0.714" stop-color="#ff2a4a"/><stop offset="0.857" stop-color="#ff1154"/><stop offset="1.000" stop-color="#ff005d"/></linearGradient>
<linearGradient id="g101" x1="0" y1="0" x2="0" y2="1"><stop offset="0.000" stop-color="#ff7c00"/><stop offset="0.143" stop-color="#ff6e06"/><stop offset="0.286" stop-color="#ff5e1c"/><stop offset="0.429" stop-color="#ff4e2d"/><stop offset="0.571" stop-color="#ff3c3a"/><stop offset="0.714" stop-color="#ff2646"/><stop offset="0.857" stop-color="#ff0c50"/><stop offset="1.000" stop-color="#ff0059"/></linearGradient>
<clipPath id="cc"><path d="M136.3 223.8 L336.5 223.8 L336.5 280.2 L147.6 280.2 Z"/></clipPath>
</defs>
<g clip-path="url(#cc)">
<rect x="134.0" y="223.8" width="2.5" height="56.4" fill="url(#g0)"/>
<rect x="136.0" y="223.8" width="2.5" height="56.4" fill="url(#g1)"/>
<rect x="138.0" y="223.8" width="2.5" height="56.4" fill="url(#g2)"/>
<rect x="140.0" y="223.8" width="2.5" height="56.4" fill="url(#g3)"/>
<rect x="142.0" y="223.8" width="2.5" height="56.4" fill="url(#g4)"/>
<rect x="144.0" y="223.8" width="2.5" height="56.4" fill="url(#g5)"/>
<rect x="146.0" y="223.8" width="2.5" height="56.4" fill="url(#g6)"/>
<rect x="148.0" y="223.8" width="2.5" height="56.4" fill="url(#g7)"/>
<rect x="150.0" y="223.8" width="2.5" height="56.4" fill="url(#g8)"/>
<rect x="152.0" y="223.8" width="2.5" height="56.4" fill="url(#g9)"/>
<rect x="154.0" y="223.8" width="2.5" height="56.4" fill="url(#g10)"/>
<rect x="156.0" y="223.8" width="2.5" height="56.4" fill="url(#g11)"/>
<rect x="158.0" y="223.8" width="2.5" height="56.4" fill="url(#g12)"/>
<rect x="160.0" y="223.8" width="2.5" height="56.4" fill="url(#g13)"/>
<rect x="162.0" y="223.8" width="2.5" height="56.4" fill="url(#g14)"/>
<rect x="164.0" y="223.8" width="2.5" height="56.4" fill="url(#g15)"/>
<rect x="166.0" y="223.8" width="2.5" height="56.4" fill="url(#g16)"/>
<rect x="168.0" y="223.8" width="2.5" height="56.4" fill="url(#g17)"/>
<rect x="170.0" y="223.8" width="2.5" height="56.4" fill="url(#g18)"/>
<rect x="172.0" y="223.8" width="2.5" height="56.4" fill="url(#g19)"/>
<rect x="174.0" y="223.8" width="2.5" height="56.4" fill="url(#g20)"/>
<rect x="176.0" y="223.8" width="2.5" height="56.4" fill="url(#g21)"/>
<rect x="178.0" y="223.8" width="2.5" height="56.4" fill="url(#g22)"/>
<rect x="180.0" y="223.8" width="2.5" height="56.4" fill="url(#g23)"/>
<rect x="182.0" y="223.8" width="2.5" height="56.4" fill="url(#g24)"/>
<rect x="184.0" y="223.8" width="2.5" height="56.4" fill="url(#g25)"/>
<rect x="186.0" y="223.8" width="2.5" height="56.4" fill="url(#g26)"/>
<rect x="188.0" y="223.8" width="2.5" height="56.4" fill="url(#g27)"/>
<rect x="190.0" y="223.8" width="2.5" height="56.4" fill="url(#g28)"/>
<rect x="192.0" y="223.8" width="2.5" height="56.4" fill="url(#g29)"/>
<rect x="194.0" y="223.8" width="2.5" height="56.4" fill="url(#g30)"/>
<rect x="196.0" y="223.8" width="2.5" height="56.4" fill="url(#g31)"/>
<rect x="198.0" y="223.8" width="2.5" height="56.4" fill="url(#g32)"/>
<rect x="200.0" y="223.8" width="2.5" height="56.4" fill="url(#g33)"/>
<rect x="202.0" y="223.8" width="2.5" height="56.4" fill="url(#g34)"/>
<rect x="204.0" y="223.8" width="2.5" height="56.4" fill="url(#g35)"/>
<rect x="206.0" y="223.8" width="2.5" height="56.4" fill="url(#g36)"/>
<rect x="208.0" y="223.8" width="2.5" height="56.4" fill="url(#g37)"/>
<rect x="210.0" y="223.8" width="2.5" height="56.4" fill="url(#g38)"/>
<rect x="212.0" y="223.8" width="2.5" height="56.4" fill="url(#g39)"/>
<rect x="214.0" y="223.8" width="2.5" height="56.4" fill="url(#g40)"/>
<rect x="216.0" y="223.8" width="2.5" height="56.4" fill="url(#g41)"/>
<rect x="218.0" y="223.8" width="2.5" height="56.4" fill="url(#g42)"/>
<rect x="220.0" y="223.8" width="2.5" height="56.4" fill="url(#g43)"/>
<rect x="222.0" y="223.8" width="2.5" height="56.4" fill="url(#g44)"/>
<rect x="224.0" y="223.8" width="2.5" height="56.4" fill="url(#g45)"/>
<rect x="226.0" y="223.8" width="2.5" height="56.4" fill="url(#g46)"/>
<rect x="228.0" y="223.8" width="2.5" height="56.4" fill="url(#g47)"/>
<rect x="230.0" y="223.8" width="2.5" height="56.4" fill="url(#g48)"/>
<rect x="232.0" y="223.8" width="2.5" height="56.4" fill="url(#g49)"/>
<rect x="234.0" y="223.8" width="2.5" height="56.4" fill="url(#g50)"/>
<rect x="236.0" y="223.8" width="2.5" height="56.4" fill="url(#g51)"/>
<rect x="238.0" y="223.8" width="2.5" height="56.4" fill="url(#g52)"/>
<rect x="240.0" y="223.8" width="2.5" height="56.4" fill="url(#g53)"/>
<rect x="242.0" y="223.8" width="2.5" height="56.4" fill="url(#g54)"/>
<rect x="244.0" y="223.8" width="2.5" height="56.4" fill="url(#g55)"/>
<rect x="246.0" y="223.8" width="2.5" height="56.4" fill="url(#g56)"/>
<rect x="248.0" y="223.8" width="2.5" height="56.4" fill="url(#g57)"/>
<rect x="250.0" y="223.8" width="2.5" height="56.4" fill="url(#g58)"/>
<rect x="252.0" y="223.8" width="2.5" height="56.4" fill="url(#g59)"/>
<rect x="254.0" y="223.8" width="2.5" height="56.4" fill="url(#g60)"/>
<rect x="256.0" y="223.8" width="2.5" height="56.4" fill="url(#g61)"/>
<rect x="258.0" y="223.8" width="2.5" height="56.4" fill="url(#g62)"/>
<rect x="260.0" y="223.8" width="2.5" height="56.4" fill="url(#g63)"/>
<rect x="262.0" y="223.8" width="2.5" height="56.4" fill="url(#g64)"/>
<rect x="264.0" y="223.8" width="2.5" height="56.4" fill="url(#g65)"/>
<rect x="266.0" y="223.8" width="2.5" height="56.4" fill="url(#g66)"/>
<rect x="268.0" y="223.8" width="2.5" height="56.4" fill="url(#g67)"/>
<rect x="270.0" y="223.8" width="2.5" height="56.4" fill="url(#g68)"/>
<rect x="272.0" y="223.8" width="2.5" height="56.4" fill="url(#g69)"/>
<rect x="274.0" y="223.8" width="2.5" height="56.4" fill="url(#g70)"/>
<rect x="276.0" y="223.8" width="2.5" height="56.4" fill="url(#g71)"/>
<rect x="278.0" y="223.8" width="2.5" height="56.4" fill="url(#g72)"/>
<rect x="280.0" y="223.8" width="2.5" height="56.4" fill="url(#g73)"/>
<rect x="282.0" y="223.8" width="2.5" height="56.4" fill="url(#g74)"/>
<rect x="284.0" y="223.8" width="2.5" height="56.4" fill="url(#g75)"/>
<rect x="286.0" y="223.8" width="2.5" height="56.4" fill="url(#g76)"/>
<rect x="288.0" y="223.8" width="2.5" height="56.4" fill="url(#g77)"/>
<rect x="290.0" y="223.8" width="2.5" height="56.4" fill="url(#g78)"/>
<rect x="292.0" y="223.8" width="2.5" height="56.4" fill="url(#g79)"/>
<rect x="294.0" y="223.8" width="2.5" height="56.4" fill="url(#g80)"/>
<rect x="296.0" y="223.8" width="2.5" height="56.4" fill="url(#g81)"/>
<rect x="298.0" y="223.8" width="2.5" height="56.4" fill="url(#g82)"/>
<rect x="300.0" y="223.8" width="2.5" height="56.4" fill="url(#g83)"/>
<rect x="302.0" y="223.8" width="2.5" height="56.4" fill="url(#g84)"/>
<rect x="304.0" y="223.8" width="2.5" height="56.4" fill="url(#g85)"/>
<rect x="306.0" y="223.8" width="2.5" height="56.4" fill="url(#g86)"/>
<rect x="308.0" y="223.8" width="2.5" height="56.4" fill="url(#g87)"/>
<rect x="310.0" y="223.8" width="2.5" height="56.4" fill="url(#g88)"/>
<rect x="312.0" y="223.8" width="2.5" height="56.4" fill="url(#g89)"/>
<rect x="314.0" y="223.8" width="2.5" height="56.4" fill="url(#g90)"/>
<rect x="316.0" y="223.8" width="2.5" height="56.4" fill="url(#g91)"/>
<rect x="318.0" y="223.8" width="2.5" height="56.4" fill="url(#g92)"/>
<rect x="320.0" y="223.8" width="2.5" height="56.4" fill="url(#g93)"/>
<rect x="322.0" y="223.8" width="2.5" height="56.4" fill="url(#g94)"/>
<rect x="324.0" y="223.8" width="2.5" height="56.4" fill="url(#g95)"/>
<rect x="326.0" y="223.8" width="2.5" height="56.4" fill="url(#g96)"/>
<rect x="328.0" y="223.8" width="2.5" height="56.4" fill="url(#g97)"/>
<rect x="330.0" y="223.8" width="2.5" height="56.4" fill="url(#g98)"/>
<rect x="332.0" y="223.8" width="2.5" height="56.4" fill="url(#g99)"/>
<rect x="334.0" y="223.8" width="2.5" height="56.4" fill="url(#g100)"/>
<rect x="336.0" y="223.8" width="2.5" height="56.4" fill="url(#g101)"/>
</g>
<path d="M136.3 223.8 L147.6 280.2" stroke="#222" stroke-width="1" fill="none"/>
<g stroke="#333" stroke-width="1" fill="none">
<path d="M127.7 223.8 V286.2 H336.5"/>
<path d="M127.0 269.6 H131.3"/>
<path d="M127.0 229.5 H131.3"/>
<path d="M167.9 287 V281.6"/>
<path d="M208.3 287 V281.6"/>
<path d="M248.7 287 V281.6"/>
<path d="M289.1 287 V281.6"/>
<path d="M329.5 287 V281.6"/>
</g>
<g fill="#555" font-size="9.6">
<text x="123.8" y="273.9" text-anchor="end">0.3</text>
<text x="123.8" y="233.8" text-anchor="end">0.4</text>
<text x="123.8" y="290.5" text-anchor="end">0</text>
<text x="127.0" y="298.4" text-anchor="middle">0</text>
<text x="167.4" y="298.4" text-anchor="middle">0.1</text>
<text x="207.8" y="298.4" text-anchor="middle">0.2</text>
<text x="248.2" y="298.4" text-anchor="middle">0.3</text>
<text x="288.6" y="298.4" text-anchor="middle">0.4</text>
<text x="329.0" y="298.4" text-anchor="middle">0.5</text>
</g>
<text x="201.7" y="308.1" font-size="9.3" font-weight="bold" fill="#222" letter-spacing="0.1">X coordinate</text>
<text transform="translate(102.9,256.1) rotate(-90)" text-anchor="middle" font-size="8.9" font-weight="bold" fill="#222" letter-spacing="0.1">Y coordinate</text>
<text x="178.3" y="265.7" font-size="10.3" fill="#1f3f42" textLength="69.4" lengthAdjust="spacingAndGlyphs">x=0.311 y=0.335</text>
<text x="271.6" y="245" font-size="9.6" fill="#2a1c14" class="sf" textLength="61" lengthAdjust="spacingAndGlyphs"><tspan font-weight="bold">x</tspan>=0.34 y=0.37</text>
<text x="263.6" y="255.5" font-size="10" fill="#3e3232" class="sf" textLength="58.8" lengthAdjust="spacingAndGlyphs">x=0.33 y=0.33</text>
<circle cx="266.6" cy="246.1" r="2.6" fill="#dfe6ff" fill-opacity="0.5" stroke="#5068f8" stroke-width="1.1"/>
<circle cx="253.4" cy="255.5" r="2.6" fill="#dfe6ff" fill-opacity="0.5" stroke="#5068f8" stroke-width="1.1"/>
<path d="M258.5 256.4 H263.7 M261.1 253.8 V259" stroke="#111" stroke-width="1.6"/>
<g stroke="#f00" stroke-width="2.5" fill="none" stroke-linecap="round">
<path d="M67.9 310.5 C68.1 309.9 68.9 307.1 69.1 306.5"/>
<path d="M71.4 293.2 C71.6 292.1 72.6 287.7 72.8 286.6"/>
<path d="M74.6 274.0 C74.9 273.1 75.8 269.2 76.1 268.3"/>
<path d="M78.5 254.8 C78.8 253.6 79.7 248.9 80.0 247.7"/>
<path d="M82.7 234.9 C83.0 233.8 84.0 229.1 84.3 228.0"/>
<path d="M87.4 216.3 C87.7 215.2 88.8 210.5 89.1 209.4"/>
<path d="M91.7 196.7 C92.1 195.5 93.6 190.9 94.0 189.7"/>
<path d="M97.4 177.6 C97.7 176.4 98.9 171.6 99.2 170.4"/>
<path d="M102.6 157.3 C102.9 156.2 103.8 151.5 104.1 150.4"/>
<path d="M107.1 138.5 C107.4 137.4 108.6 133.1 108.9 132.0"/>
<path d="M114.6 119.6 C115.0 118.8 116.1 116.2 116.8 115.0 C117.5 113.8 118.7 112.9 119.1 112.5"/>
<path d="M131.1 112.7 C131.5 113.0 132.8 113.8 133.6 114.6 C134.4 115.4 135.4 117.0 135.8 117.5"/>
<path d="M144.7 127.6 C145.4 128.2 147.5 130.2 149.0 131.0 C150.5 131.8 153.0 132.4 153.8 132.7"/>
<path d="M164.6 129.2 C165.0 128.7 166.2 127.4 167.0 126.0 C167.8 124.6 168.9 121.8 169.3 120.9"/>
<path d="M177.0 108.6 C177.7 107.5 180.3 103.0 181.0 101.9"/>
<path d="M186.0 89.3 C186.8 88.0 190.0 82.4 190.8 81.1"/>
<path d="M195.8 70.7 C196.6 69.4 199.7 64.6 200.5 63.3"/>
<path d="M208.0 50.1 C209.1 48.9 213.4 44.1 214.5 42.9"/>
<path d="M225.4 32.8 C226.0 32.5 227.8 31.5 229.0 31.2 C230.2 30.9 231.9 30.9 232.5 30.9"/>
<path d="M243.9 33.3 C244.5 33.6 246.3 34.7 247.5 35.6 C248.7 36.5 250.4 38.4 251.0 38.9"/>
<path d="M259.1 50.8 C260.0 52.1 263.7 57.5 264.6 58.8"/>
<path d="M270.0 71.1 C270.8 72.6 273.6 78.4 274.4 79.9"/>
<path d="M279.8 88.9 C280.5 90.2 283.5 95.4 284.2 96.7"/>
<path d="M290.2 108.9 C290.9 110.1 293.6 114.8 294.3 116.0"/>
<path d="M304.4 127.6 C305.3 128.8 309.0 133.5 309.9 134.7"/>
<path d="M316.0 146.3 C316.7 147.7 319.3 153.2 320.0 154.6"/>
<path d="M326.8 165.4 C327.8 166.7 332.0 171.8 333.0 173.1"/>
<path d="M341.3 184.5 C342.4 185.8 346.8 191.2 347.9 192.5"/>
<path d="M357.5 202.9 C358.2 203.5 360.3 205.8 361.5 206.8 C362.7 207.8 364.3 208.5 364.8 208.9"/>
<path d="M374.3 221.4 C375.2 222.6 379.0 227.4 379.9 228.6"/>
<path d="M388.5 239.5 C389.5 240.4 393.6 244.1 394.6 245.0"/>
<path d="M405.8 253.6 C407.2 254.5 412.8 258.2 414.2 259.1"/>
<path d="M425.4 267.1 C426.8 267.8 432.2 270.8 433.6 271.5"/>
</g>
<path d="M68.1 312.3 C69.7 307.1 74.7 291.4 77.8 281.0 C80.9 270.6 84.0 261.0 86.9 250.0 C89.8 239.0 92.7 226.7 95.3 215.0 C97.9 203.3 100.4 191.7 102.7 180.0 C105.0 168.3 107.0 156.7 109.0 145.0 C111.0 133.3 113.0 118.8 114.6 110.0 C116.2 101.2 117.4 97.8 118.5 92.3 C119.6 86.8 120.3 82.0 121.3 76.9 C122.2 71.8 123.2 66.2 124.2 61.5 C125.2 56.9 126.1 52.4 127.1 49.0 C128.1 45.6 128.9 43.6 130.0 41.3 C131.1 39.0 132.5 36.5 133.8 35.0 C135.1 33.5 136.4 32.6 137.7 32.1 C139.0 31.6 140.2 31.3 141.5 31.7 C142.8 32.0 144.1 32.9 145.4 34.2 C146.7 35.5 147.8 37.4 149.2 39.4 C150.6 41.4 152.4 43.8 154.0 46.2 C155.6 48.6 157.0 51.4 158.8 53.8 C160.6 56.2 162.9 58.7 164.6 60.8 C166.3 62.9 167.5 64.4 168.8 66.3 C170.2 68.2 171.6 70.3 172.7 72.1 C173.8 73.9 174.6 75.6 175.6 76.9 C176.6 78.2 177.4 79.5 178.5 80.2 C179.6 80.9 181.2 81.2 182.3 81.3 C183.4 81.4 184.1 81.5 185.2 80.8 C186.3 80.1 187.6 78.5 189.0 76.9 C190.4 75.3 192.0 73.4 193.8 71.2 C195.6 69.0 197.7 66.1 199.6 63.5 C201.5 60.9 203.5 58.0 205.4 55.8 C207.3 53.5 209.4 51.8 211.2 50.0 C213.0 48.2 214.6 47.1 216.0 45.2 C217.4 43.3 218.6 40.3 219.8 38.5 C221.0 36.7 221.8 35.3 223.3 34.2 C224.8 33.1 227.2 31.9 228.7 31.7 C230.2 31.4 231.1 31.8 232.5 32.7 C233.9 33.6 235.5 35.3 237.3 36.9 C239.1 38.5 241.2 40.4 243.1 42.3 C245.0 44.2 247.2 46.0 248.8 48.1 C250.4 50.2 251.4 52.4 252.7 54.8 C254.0 57.2 255.2 59.9 256.5 62.5 C257.8 65.1 259.1 67.6 260.4 70.2 C261.7 72.8 262.9 75.3 264.2 77.9 C265.5 80.5 267.1 83.2 268.3 86.0 C269.5 88.8 270.0 91.8 271.1 94.9 C272.2 98.0 273.6 101.5 274.8 104.8 C276.0 108.1 277.1 111.6 278.5 114.7 C279.9 117.8 281.9 120.2 283.5 123.3 C285.1 126.4 286.5 129.7 288.4 133.2 C290.2 136.7 292.5 140.8 294.6 144.3 C296.7 147.8 298.7 150.8 300.8 154.2 C302.9 157.6 305.1 161.1 307.2 164.5 C309.3 167.9 311.7 171.5 313.6 174.9 C315.5 178.3 316.6 181.3 318.5 184.8 C320.4 188.3 322.6 192.4 324.7 195.9 C326.8 199.4 328.8 202.3 330.9 205.8 C333.0 209.3 335.0 213.2 337.1 216.9 C339.2 220.6 341.2 225.2 343.3 228.1 C345.4 231.0 347.2 231.7 349.5 234.2 C351.8 236.7 354.2 239.8 356.9 242.9 C359.6 246.0 362.6 249.3 365.5 252.8 C368.4 256.3 371.3 260.7 374.0 263.8 C376.7 266.9 379.1 268.9 381.6 271.4 C384.1 273.9 386.5 276.6 389.0 278.9 C391.5 281.2 394.1 283.1 396.6 285.1 C399.1 287.1 401.7 289.0 404.2 290.7 C406.7 292.4 409.8 294.1 411.7 295.2 C413.6 296.3 414.8 296.9 415.4 297.2" stroke="#000" stroke-width="2.6" fill="none" stroke-linejoin="round"/>
<g stroke="#000" fill="none">
<path d="M59.50 2.2 V315.30" stroke-width="2.5"/>
<path d="M58.25 314.00 H443.2" stroke-width="2.6"/>
<path d="M52.2 314.00 H59.50" stroke-width="2.4"/>
<path d="M55.6 285.73 H59.50" stroke-width="2.2"/>
<path d="M52.2 257.46 H59.50" stroke-width="2.4"/>
<path d="M55.6 229.19 H59.50" stroke-width="2.2"/>
<path d="M52.2 200.92 H59.50" stroke-width="2.4"/>
<path d="M55.6 172.65 H59.50" stroke-width="2.2"/>
<path d="M52.2 144.38 H59.50" stroke-width="2.4"/>
<path d="M55.6 116.11 H59.50" stroke-width="2.2"/>
<path d="M52.2 87.84 H59.50" stroke-width="2.4"/>
<path d="M55.6 59.57 H59.50" stroke-width="2.2"/>
<path d="M52.2 31.30 H59.50" stroke-width="2.4"/>
<path d="M55.6 3.13 H59.50" stroke-width="2"/>
<path d="M85.90 314.00 V320.7" stroke-width="2.4"/>
<path d="M130.25 314.00 V318.3" stroke-width="2.1"/>
<path d="M174.60 314.00 V320.7" stroke-width="2.4"/>
<path d="M219.45 314.00 V318.3" stroke-width="2.1"/>
<path d="M264.30 314.00 V320.7" stroke-width="2.4"/>
<path d="M308.85 314.00 V318.3" stroke-width="2.1"/>
<path d="M353.40 314.00 V320.7" stroke-width="2.4"/>
<path d="M397.65 314.00 V318.3" stroke-width="2.1"/>
<path d="M441.90 314.00 V320.7" stroke-width="2.4"/>
</g>
<g class="tk" font-weight="bold" fill="#000">
<text x="47.5" y="318.3" text-anchor="end" font-size="17.5">0.0</text>
<text x="47.5" y="261.8" text-anchor="end" font-size="17.5">0.2</text>
<text x="47.5" y="205.2" text-anchor="end" font-size="17.5">0.4</text>
<text x="47.5" y="148.7" text-anchor="end" font-size="17.5">0.6</text>
<text x="47.5" y="92.1" text-anchor="end" font-size="17.5">0.8</text>
<text x="47.5" y="35.6" text-anchor="end" font-size="17.5">1.0</text>
<text x="85.5" y="337.4" text-anchor="middle" font-size="17.9" letter-spacing="0.2">400</text>
<text x="174.2" y="337.4" text-anchor="middle" font-size="17.9" letter-spacing="0.2">500</text>
<text x="263.9" y="337.4" text-anchor="middle" font-size="17.9" letter-spacing="0.2">600</text>
<text x="353.0" y="337.4" text-anchor="middle" font-size="17.9" letter-spacing="0.2">700</text>
<text x="441.5" y="337.4" text-anchor="middle" font-size="17.9" letter-spacing="0.2">800</text>
</g>
<text x="176.9" y="358.2" font-size="18.3" font-weight="bold">Wavelength (nm)</text>
<text transform="translate(16.3,164.3) rotate(-90)" text-anchor="middle" font-size="17.9" font-weight="bold" letter-spacing="0.65">Intensity (a.u)</text>
<text x="119.7" y="24.7" font-size="17.8" font-weight="bold">461 nm</text>
<text x="224.3" y="24.7" font-size="17.8" font-weight="bold">567 nm</text>
<text x="119.4" y="105.3" font-size="17.8" font-weight="bold">443 nm</text>
<path d="M293.7 42.1 H336.7" stroke="#000" stroke-width="2.6" stroke-linecap="round"/>
<path d="M293.7 65.2 H302.4 M312.9 65.2 H322.1 M332.5 65.2 H336.8" stroke="#f00" stroke-width="2.6" stroke-linecap="round"/>
<text x="341.2" y="47.8" font-size="17.7" font-weight="bold" letter-spacing="0.1">Device 1</text>
<text x="341.2" y="71.3" font-size="17.7" font-weight="bold" letter-spacing="0.1">Device 2</text>
</svg></body></html>
